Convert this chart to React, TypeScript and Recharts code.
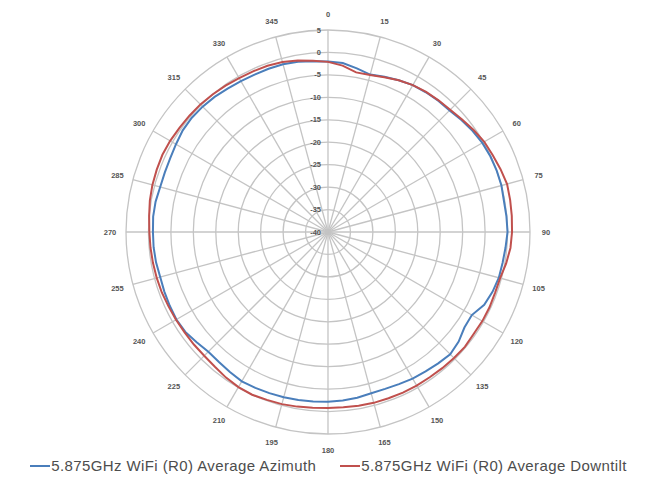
import React from "react";
import {
  RadarChart,
  Radar,
  PolarGrid,
  PolarAngleAxis,
  PolarRadiusAxis,
  Legend,
} from "recharts";

// angle in degrees, every 5 degrees
const angles = [
  0, 5, 10, 15, 20, 25, 30, 35, 40, 45, 50, 55,
  60, 65, 70, 75, 80, 85, 90, 95, 100, 105, 110, 115,
  120, 125, 130, 135, 140, 145, 150, 155, 160, 165, 170, 175,
  180, 185, 190, 195, 200, 205, 210, 215, 220, 225, 230, 235,
  240, 245, 250, 255, 260, 265, 270, 275, 280, 285, 290, 295,
  300, 305, 310, 315, 320, 325, 330, 335, 340, 345, 350, 355,
];

// dB values
const azimuth = [
  -2.0, -2.2, -3.0, -3.7, -3.2, -2.7, -2.2, -2.0, -1.8, -1.7, -1.2, -0.7,
  -0.3, -0.1, 0.0, 0.0, -0.2, -0.1, 0.0, -0.3, -0.5, -0.6, -1.0, -1.6,
  -3.0, -2.9, -2.0, -1.5, -1.8, -2.1, -2.3, -2.6, -2.8, -2.8, -2.5, -2.3,
  -2.2, -2.1, -2.0, -1.9, -1.8, -1.7, -1.6, -1.9, -2.2, -2.3, -1.8, -1.2,
  -1.0, -1.1, -1.2, -1.3, -1.1, -1.0, -1.0, -0.9, -1.0, -1.3, -1.3, -1.2,
  -0.9, -0.5, -0.4, -0.5, -0.7, -1.0, -1.2, -1.3, -1.3, -1.3, -1.5, -1.8,
];

const downtilt = [
  -2.1, -2.8, -3.9, -3.8, -3.3, -2.7, -2.2, -1.9, -1.7, -1.5, -1.0, -0.4,
  0.2, 0.5, 0.9, 1.3, 1.2, 1.1, 1.0, 0.8, 0.3, -0.3, -0.4, -0.3,
  -0.3, -0.4, -0.2, -0.3, -0.4, -0.5, -0.5, -0.5, -0.6, -0.6, -0.7, -0.8,
  -0.8, -0.7, -0.5, -0.3, -0.2, 0.0, -0.1, -0.4, -0.8, -1.0, -1.0, -1.0,
  -0.9, -0.8, -0.6, -0.5, -0.4, -0.3, -0.2, 0.0, 0.3, 0.5, 0.6, 0.7,
  0.6, 0.4, 0.3, 0.2, 0.0, -0.2, -0.4, -0.5, -0.6, -0.8, -1.2, -1.7,
];

const angleTicks = [
  0, 15, 30, 45, 60, 75, 90, 105, 120, 135, 150, 165,
  180, 195, 210, 225, 240, 255, 270, 285, 300, 315, 330, 345,
];
const radiusTicks = [5, 0, -5, -10, -15, -20, -25, -30, -35, -40];

const AZ_NAME = "5.875GHz WiFi (R0) Average Azimuth";
const DT_NAME = "5.875GHz WiFi (R0) Average Downtilt";

const data = angles.map((a, i) => ({
  angle: a,
  azimuth: azimuth[i],
  downtilt: downtilt[i],
}));

const CX = 328;
const CY = 232;
const R = 202;
const LABEL_R = 218;

const AngleTick = (props: any) => {
  const v = Number(props.payload.value);
  if (v % 15 !== 0) return <g />;
  const t = (v * Math.PI) / 180;
  const x = CX + LABEL_R * Math.sin(t);
  const y = CY - LABEL_R * Math.cos(t);
  return (
    <text
      x={x}
      y={y}
      textAnchor="middle"
      dominantBaseline="central"
      fontSize={7.5}
      fontWeight="bold"
      fill="#555"
      fontFamily="Liberation Sans, sans-serif"
    >
      {v}
    </text>
  );
};

const RadiusTick = (props: any) => {
  const { x, y, payload } = props;
  return (
    <text
      x={x - 7}
      y={y}
      textAnchor="end"
      dominantBaseline="central"
      fontSize={7.5}
      fontWeight="bold"
      fill="#555"
      fontFamily="Liberation Sans, sans-serif"
    >
      {payload.value}
    </text>
  );
};

const LegendContent = () => (
  <div
    style={{
      display: "flex",
      justifyContent: "center",
      gap: 24,
      fontFamily: "Liberation Sans, sans-serif",
      fontSize: 15,
      letterSpacing: 0.4,
      color: "#4d4d4d",
    }}
  >
    {[
      { name: AZ_NAME, color: "#4a7ebb" },
      { name: DT_NAME, color: "#c0504d" },
    ].map((it) => (
      <div key={it.name} style={{ display: "flex", alignItems: "center" }}>
        <span
          style={{
            display: "inline-block",
            width: 20,
            height: 2,
            background: it.color,
            marginRight: 1,
          }}
        />
        {it.name}
      </div>
    ))}
  </div>
);

export default function App() {
  return (
    <div
      style={{
        position: "absolute",
        left: 0,
        top: 0,
        width: 657,
        height: 484,
        background: "#fff",
      }}
    >
      <RadarChart
        width={657}
        height={484}
        data={data}
        cx={CX}
        cy={CY}
        outerRadius={R}
        startAngle={90}
        endAngle={-270}
        margin={{ top: 0, right: 0, bottom: 0, left: 0 }}
      >
        <PolarGrid
          gridType="circle"
          polarAngles={angleTicks.map((a) => 90 - a)}
          stroke="#c4c4c4"
          strokeWidth={1.3}
        />
        <PolarAngleAxis
          dataKey="angle"
          tick={<AngleTick />}
          tickLine={false}
          axisLine={false}
        />
        <PolarRadiusAxis
          angle={90}
          domain={[-40, 5]}
          ticks={radiusTicks as any}
          tickCount={10}
          axisLine={false}
          tick={<RadiusTick />}
        />
        <Radar
          name={AZ_NAME}
          dataKey="azimuth"
          stroke="#4a7ebb"
          strokeWidth={2}
          fill="none"
          fillOpacity={0}
          dot={false}
          isAnimationActive={false}
        />
        <Radar
          name={DT_NAME}
          dataKey="downtilt"
          stroke="#c0504d"
          strokeWidth={2}
          fill="none"
          fillOpacity={0}
          dot={false}
          isAnimationActive={false}
        />
        <Legend
          content={<LegendContent />}
          wrapperStyle={{ position: "absolute", left: 0, top: 457, width: 657 }}
        />
      </RadarChart>
    </div>
  );
}
